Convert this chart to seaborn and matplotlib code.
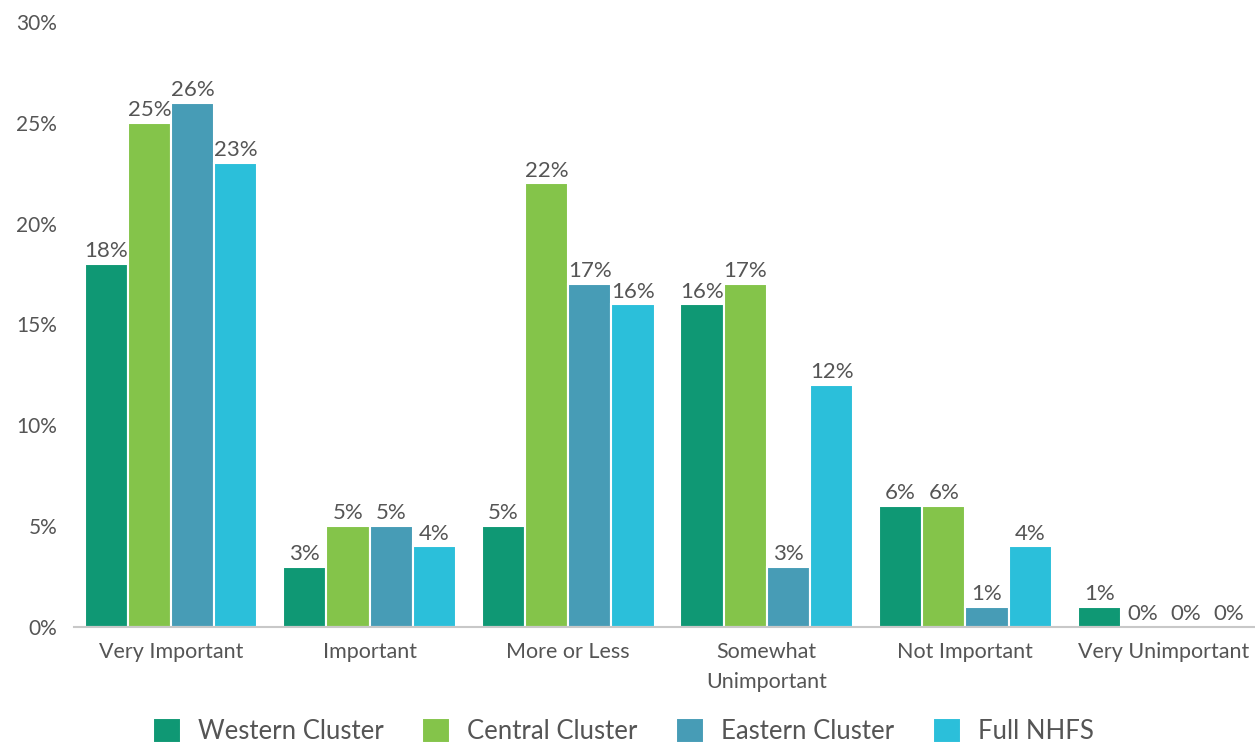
import matplotlib
matplotlib.use("Agg")
import matplotlib.pyplot as plt
import seaborn as sns
import pandas as pd

categories = ["Very Important", "Important", "More or Less", "Somewhat\nUnimportant",
              "Not Important", "Very Unimportant"]
series = ["Western Cluster", "Central Cluster", "Eastern Cluster", "Full NHFS"]
western = [18, 3, 5, 16, 6, 1]
central = [25, 5, 22, 17, 6, 0]
eastern = [26, 5, 17, 3, 1, 0]
full_nhfs = [23, 4, 16, 12, 4, 0]
colors = ["#0f9874", "#84c44a", "#479cb6", "#2bbfda"]
yticks = [0, 5, 10, 15, 20, 25, 30]

rows = []
for s, vals in zip(series, [western, central, eastern, full_nhfs]):
    for c, v in zip(categories, vals):
        rows.append({"category": c, "series": s, "value": v})
df = pd.DataFrame(rows)

sns.set_theme(style="white")
plt.rcParams["font.family"] = ["Lato", "DejaVu Sans"]

fig = plt.figure(figsize=(12.55, 7.44), dpi=100)
ax = fig.add_axes([74 / 1255, 1 - 627 / 744, 1181 / 1255, 605 / 744])
sns.barplot(data=df, x="category", y="value", hue="series", order=categories,
            hue_order=series, palette=colors, ax=ax, width=0.87,
            edgecolor="white", linewidth=1.5, saturation=1, errorbar=None)

for cont in ax.containers:
    ax.bar_label(cont, labels=[f"{int(v)}%" for v in cont.datavalues],
                 fontsize=16, color="#555555", padding=2)

ax.set_ylim(0, 30)
ax.set_yticks(yticks)
ax.set_yticklabels([f"{t}%" for t in yticks], fontsize=15, color="#555555")
ax.tick_params(axis="x", labelsize=15.5, colors="#555555", length=0, pad=11)
for lbl in ax.get_xticklabels():
    lbl.set_linespacing(1.6)
ax.tick_params(axis="y", length=0, pad=12)
ax.set_xlabel("")
ax.set_ylabel("")
ax.set_xlim(-0.488, 5.458)
for sp in ["top", "right", "left"]:
    ax.spines[sp].set_visible(False)
ax.spines["bottom"].set_color("#c8c8c8")
ax.spines["bottom"].set_linewidth(1.5)

handles, labels = ax.get_legend_handles_labels()
ax.legend(handles, labels, loc="center", bbox_to_anchor=(0.465, -0.172),
          ncol=4, frameon=False, fontsize=18.5, labelcolor="#555555",
          handlelength=1.1, handleheight=1.1, columnspacing=1.5, handletextpad=0.65)

fig.savefig("out.png", dpi=100)
